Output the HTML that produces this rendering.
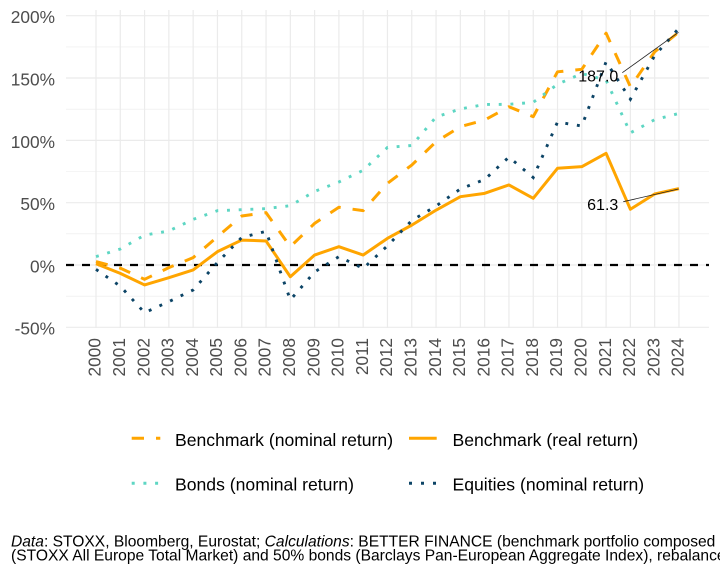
<!DOCTYPE html>
<html><head><meta charset="utf-8"><style>
html,body{margin:0;padding:0;background:#fff;}
svg{display:block;}
text{font-family:"Liberation Sans",Arial,sans-serif;}
</style></head><body>
<svg width="720" height="576" viewBox="0 0 720 576" xmlns="http://www.w3.org/2000/svg">
<rect x="0" y="0" width="720" height="576" fill="#fff"/>
<!-- minor gridlines -->
<g stroke="#ebebeb" stroke-width="0.6">
<line x1="66" y1="46.9" x2="709" y2="46.9"/>
<line x1="66" y1="109.2" x2="709" y2="109.2"/>
<line x1="66" y1="171.5" x2="709" y2="171.5"/>
<line x1="66" y1="233.8" x2="709" y2="233.8"/>
<line x1="66" y1="296.2" x2="709" y2="296.2"/>
</g>
<!-- major gridlines -->
<g stroke="#ebebeb" stroke-width="1.2">
<line x1="66" y1="15.7" x2="709" y2="15.7"/>
<line x1="66" y1="78" x2="709" y2="78"/>
<line x1="66" y1="140.4" x2="709" y2="140.4"/>
<line x1="66" y1="202.7" x2="709" y2="202.7"/>
<line x1="66" y1="265" x2="709" y2="265"/>
<line x1="66" y1="327.3" x2="709" y2="327.3"/>
<line x1="96" y1="10" x2="96" y2="328"/>
<line x1="120.29" y1="10" x2="120.29" y2="328"/>
<line x1="144.58" y1="10" x2="144.58" y2="328"/>
<line x1="168.87" y1="10" x2="168.87" y2="328"/>
<line x1="193.16" y1="10" x2="193.16" y2="328"/>
<line x1="217.45" y1="10" x2="217.45" y2="328"/>
<line x1="241.74" y1="10" x2="241.74" y2="328"/>
<line x1="266.03" y1="10" x2="266.03" y2="328"/>
<line x1="290.32" y1="10" x2="290.32" y2="328"/>
<line x1="314.61" y1="10" x2="314.61" y2="328"/>
<line x1="338.9" y1="10" x2="338.9" y2="328"/>
<line x1="363.19" y1="10" x2="363.19" y2="328"/>
<line x1="387.48" y1="10" x2="387.48" y2="328"/>
<line x1="411.77" y1="10" x2="411.77" y2="328"/>
<line x1="436.06" y1="10" x2="436.06" y2="328"/>
<line x1="460.35" y1="10" x2="460.35" y2="328"/>
<line x1="484.64" y1="10" x2="484.64" y2="328"/>
<line x1="508.93" y1="10" x2="508.93" y2="328"/>
<line x1="533.22" y1="10" x2="533.22" y2="328"/>
<line x1="557.51" y1="10" x2="557.51" y2="328"/>
<line x1="581.8" y1="10" x2="581.8" y2="328"/>
<line x1="606.09" y1="10" x2="606.09" y2="328"/>
<line x1="630.38" y1="10" x2="630.38" y2="328"/>
<line x1="654.67" y1="10" x2="654.67" y2="328"/>
<line x1="678.96" y1="10" x2="678.96" y2="328"/>
</g>
<!-- zero line -->
<line x1="66" y1="265" x2="709" y2="265" stroke="#000" stroke-width="2.2" stroke-dasharray="8 8"/>

<!-- Benchmark nominal (dashed) -->
<polyline fill="none" stroke="#ffa500" stroke-width="3" stroke-dasharray="12 12" stroke-linejoin="round" points="96,261.63 120.29,268.12 144.58,279.33 168.87,267.62 193.16,257.65 217.45,236.71 241.74,216.02 266.03,212.65 290.32,246.68 314.61,223.37 338.9,207.29 363.19,210.66 387.48,183.36 411.77,165.04 436.06,141.73 460.35,126.65 484.64,120.04 508.93,106.71 533.22,116.68 557.51,71.81 581.8,69.32 606.09,33.17 630.38,86.76 654.67,51.87 678.96,31.92"/>
<!-- Benchmark real (solid) -->
<polyline fill="none" stroke="#ffa500" stroke-width="3" stroke-linejoin="round" points="96,263.75 120.29,273.35 144.58,284.94 168.87,277.71 193.16,269.99 217.45,251.66 241.74,240.07 266.03,240.94 290.32,276.72 314.61,255.03 338.9,246.68 363.19,255.03 387.48,238.33 411.77,225.12 436.06,210.16 460.35,196.7 484.64,193.33 508.93,184.98 533.22,198.32 557.51,168.28 581.8,166.66 606.09,153.32 630.38,209.29 654.67,193.96 678.96,188.6"/>
<!-- Bonds (dotted teal) -->
<polyline fill="none" stroke="#5ed6c3" stroke-width="2.9" stroke-dasharray="2.9 8.8" points="96,256.65 120.29,249.05 144.58,235.09 168.87,230.97 193.16,219.38 217.45,210.66 241.74,209.66 266.03,208.66 290.32,205.67 314.61,191.46 338.9,181.99 363.19,170.27 387.48,147.46 411.77,145.47 436.06,117.05 460.35,108.95 484.64,104.47 508.93,104.34 533.22,102.34 557.51,84.27 581.8,73.56 606.09,80.16 630.38,132.88 654.67,119.67 678.96,113.44"/>
<!-- Equities (dotted navy) -->
<polyline fill="none" stroke="#0c4466" stroke-width="2.9" stroke-dasharray="2.9 8.8" points="96,269.36 120.29,286.19 144.58,312.74 168.87,301.64 193.16,289.93 217.45,262.51 241.74,237.45 266.03,231.35 290.32,299.9 314.61,271.98 338.9,256.65 363.19,268.49 387.48,245.81 411.77,220.5 436.06,206.05 460.35,188.97 484.64,179.5 508.93,157.06 533.22,177.5 557.51,122.04 581.8,126.03 606.09,61.84 630.38,99.23 654.67,55.6 678.96,28.18"/>

<!-- annotations -->
<line x1="622.3" y1="72.7" x2="678.5" y2="32.3" stroke="#222" stroke-width="0.8"/>
<line x1="623.3" y1="201.7" x2="678.5" y2="189" stroke="#222" stroke-width="0.8"/>
<text x="618.3" y="81.7" font-size="16" text-anchor="end" fill="#000">187.0</text>
<text x="618.3" y="210" font-size="16" text-anchor="end" fill="#000">61.3</text>

<!-- y axis labels -->
<g font-size="17.3" fill="#4d4d4d" text-anchor="end">
<text x="55" y="23.1">200%</text>
<text x="55" y="85.4">150%</text>
<text x="55" y="147.8">100%</text>
<text x="55" y="210.1">50%</text>
<text x="55" y="272.4">0%</text>
<text x="55" y="334.7">-50%</text>
</g>
<!-- x axis labels -->
<g font-size="17.3" fill="#4d4d4d" text-anchor="end">
<text transform="translate(100.7,338) rotate(-90)">2000</text>
<text transform="translate(124.99,338) rotate(-90)">2001</text>
<text transform="translate(149.28,338) rotate(-90)">2002</text>
<text transform="translate(173.57,338) rotate(-90)">2003</text>
<text transform="translate(197.86,338) rotate(-90)">2004</text>
<text transform="translate(222.15,338) rotate(-90)">2005</text>
<text transform="translate(246.44,338) rotate(-90)">2006</text>
<text transform="translate(270.73,338) rotate(-90)">2007</text>
<text transform="translate(295.02,338) rotate(-90)">2008</text>
<text transform="translate(319.31,338) rotate(-90)">2009</text>
<text transform="translate(343.6,338) rotate(-90)">2010</text>
<text transform="translate(367.89,338) rotate(-90)">2011</text>
<text transform="translate(392.18,338) rotate(-90)">2012</text>
<text transform="translate(416.47,338) rotate(-90)">2013</text>
<text transform="translate(440.76,338) rotate(-90)">2014</text>
<text transform="translate(465.05,338) rotate(-90)">2015</text>
<text transform="translate(489.34,338) rotate(-90)">2016</text>
<text transform="translate(513.63,338) rotate(-90)">2017</text>
<text transform="translate(537.92,338) rotate(-90)">2018</text>
<text transform="translate(562.21,338) rotate(-90)">2019</text>
<text transform="translate(586.5,338) rotate(-90)">2020</text>
<text transform="translate(610.79,338) rotate(-90)">2021</text>
<text transform="translate(635.08,338) rotate(-90)">2022</text>
<text transform="translate(659.37,338) rotate(-90)">2023</text>
<text transform="translate(683.66,338) rotate(-90)">2024</text>
</g>

<!-- legend -->
<line x1="131.7" y1="438.3" x2="160.3" y2="438.3" stroke="#ffa500" stroke-width="3" stroke-dasharray="12.3 12"/>
<line x1="409" y1="438.3" x2="436.7" y2="438.3" stroke="#ffa500" stroke-width="3"/>
<line x1="131.7" y1="483.3" x2="160.3" y2="483.3" stroke="#5ed6c3" stroke-width="3" stroke-dasharray="3 8.7"/>
<line x1="409" y1="483.3" x2="437" y2="483.3" stroke="#0c4466" stroke-width="3" stroke-dasharray="3 9"/>
<g font-size="17.6" fill="#000">
<text x="175" y="446">Benchmark (nominal return)</text>
<text x="452.5" y="446">Benchmark (real return)</text>
<text x="175" y="490.5">Bonds (nominal return)</text>
<text x="452.5" y="490.5">Equities (nominal return)</text>
</g>

<!-- caption -->
<g font-size="15.6" fill="#000">
<text x="11" y="546.7"><tspan font-style="italic">Data</tspan>: STOXX, Bloomberg, Eurostat; <tspan font-style="italic">Calculations</tspan>: BETTER FINANCE (benchmark portfolio composed of 50% equities</text>
<text x="11" y="560.7">(STOXX All Europe Total Market) and 50% bonds (Barclays Pan-European Aggregate Index), rebalanced annually)</text>
</g>
</svg>
</body></html>
